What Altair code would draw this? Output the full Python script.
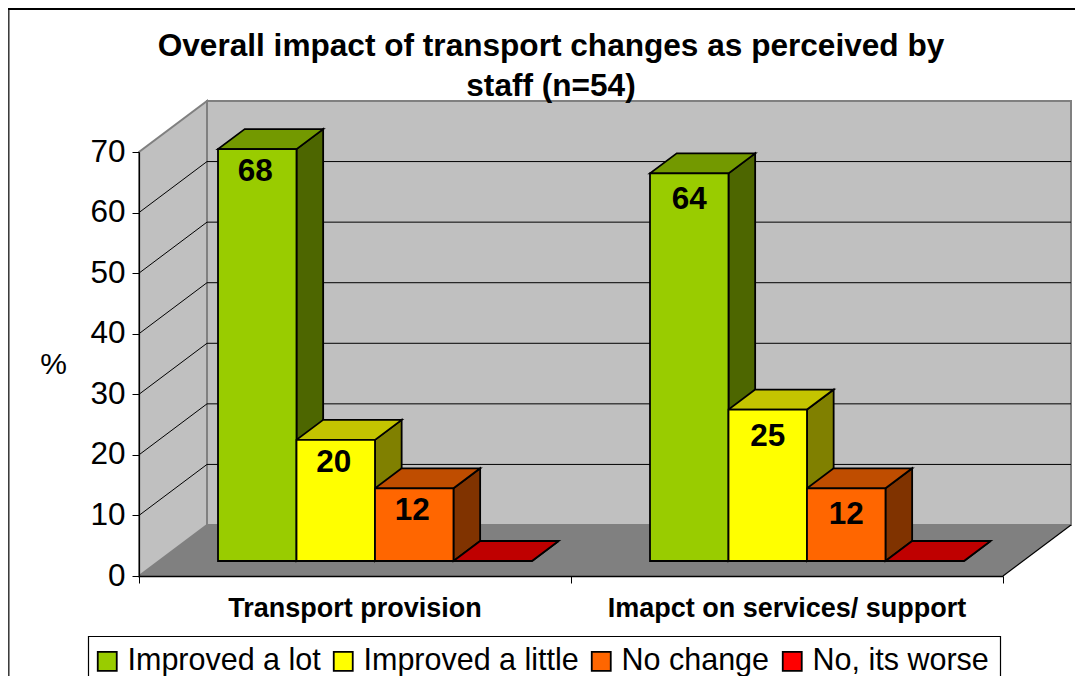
import altair as alt

TITLE = ["Overall impact of transport changes as perceived by", "staff (n=54)"]
GROUPS = ["Transport provision", "Imapct on services/ support"]
SERIES = ["Improved a lot", "Improved a little", "No change", "No, its worse"]
VALUES = [[68, 20, 12, 0], [64, 25, 12, 0]]
FRONT = ["#99cc00", "#ffff00", "#ff6600", "#ff0000"]
TOP = ["#739900", "#c4c400", "#bf4d00", "#bf0000"]
SIDE = ["#4d6600", "#808000", "#803300", "#800000"]
TICKS = [0, 10, 20, 30, 40, 50, 60, 70]
GRID = [10, 20, 30, 40, 50, 60]
LABEL_DX = [-2, 0]
LABEL_DY = [23, 27]

# 3-D projection expressed in data units (slots on x, percent on y)
DEPTH_X, DEPTH_Y = 0.1574, 8.42
D1, D2 = 0.294, 0.686
MARGIN, BAR_W = 0.1366, 0.1817
FONT = "Liberation Sans"

sides, tops, fronts, labels = [], [], [], []
for g, vals in enumerate(VALUES):
    for i, v in enumerate(vals):
        xl = g + MARGIN + i * BAR_W
        xr = xl + BAR_W
        bid = f"{g}-{i}"
        for d in (D1, D2):
            sides.append(dict(id=bid, col=SIDE[i], x=xr + d * DEPTH_X,
                              y=d * DEPTH_Y, y2=v + d * DEPTH_Y))
            tops.append(dict(id=bid, col=TOP[i], y=v + d * DEPTH_Y,
                             x=xl + d * DEPTH_X, x2=xr + d * DEPTH_X))
        fronts.append(dict(series=SERIES[i], x=xl + D1 * DEPTH_X, x2=xr + D1 * DEPTH_X,
                           y=D1 * DEPTH_Y, y2=v + D1 * DEPTH_Y))
        if v > 0:
            labels.append(dict(g=g, t=str(v), x=(xl + xr) / 2 + D1 * DEPTH_X,
                               y=v + D1 * DEPTH_Y))

xs = alt.Scale(domain=[0, 2], nice=False, zero=False)
ys = alt.Scale(domain=[0, 70], nice=False, zero=False)


def X(f="x", **k):
    k.setdefault("axis", None)
    return alt.X(f"{f}:Q", scale=xs, stack=None, **k)


def Y(f="y", **k):
    k.setdefault("axis", None)
    return alt.Y(f"{f}:Q", scale=ys, stack=None, **k)


def df(rows):
    return alt.Data(values=rows)


left_wall = alt.Chart(df([
    dict(x=0, y=0, y2=70), dict(x=DEPTH_X, y=DEPTH_Y, y2=70 + DEPTH_Y)
])).mark_area(color="#c0c0c0", stroke="#808080", strokeWidth=2).encode(
    x=X(), y=Y(), y2="y2:Q")

back_wall = alt.Chart(df([
    dict(x=DEPTH_X, x2=2 + DEPTH_X, y=DEPTH_Y, y2=70 + DEPTH_Y)
])).mark_rect(color="#c0c0c0", stroke="#808080", strokeWidth=2).encode(
    x=X(), x2="x2:Q", y=Y(), y2="y2:Q")

floor = alt.Chart(df([
    dict(y=0, x=0, x2=2), dict(y=DEPTH_Y, x=DEPTH_X, x2=2 + DEPTH_X)
])).mark_area(color="#808080", orient="horizontal").encode(
    y=Y(), x=X(), x2="x2:Q")

floor_edge = alt.Chart(df([
    dict(x=2, y=0), dict(x=2 + DEPTH_X, y=DEPTH_Y)
])).mark_line(color="black", strokeWidth=1.2).encode(x=X(), y=Y())

grid_back = alt.Chart(df([
    dict(x=DEPTH_X, x2=2 + DEPTH_X, y=v + DEPTH_Y) for v in GRID
])).mark_rule(color="black", strokeWidth=1).encode(x=X(), x2="x2:Q", y=Y())

grid_side_rows = []
for v in GRID:
    grid_side_rows += [dict(k=v, x=0, y=v), dict(k=v, x=DEPTH_X, y=v + DEPTH_Y)]
grid_side = alt.Chart(df(grid_side_rows)).mark_line(color="black", strokeWidth=1).encode(
    x=X(), y=Y(), detail="k:N")

side_layer = alt.Chart(df(sides)).mark_area(stroke="black", strokeWidth=1.8).encode(
    x=X(), y=Y(), y2="y2:Q", detail="id:N", color=alt.Color("col:N", scale=None))

top_layer = alt.Chart(df(tops)).mark_area(stroke="black", strokeWidth=1.8, orient="horizontal").encode(
    y=Y(), x=X(), x2="x2:Q", detail="id:N", color=alt.Color("col:N", scale=None))

front_layer = alt.Chart(df(fronts)).mark_rect(stroke="black", strokeWidth=1.8).encode(
    x=X(axis=alt.Axis(values=[0, 1, 2], labels=False, title=None, grid=False, domainColor="black",
                      domainWidth=1.5, tickColor="black", tickSize=7, tickWidth=1, zindex=1)),
    x2="x2:Q",
    y=Y(axis=alt.Axis(values=TICKS, title="%", titleAngle=0, titleFont=FONT, titleFontSize=30,
                      titleFontWeight="normal", titleColor="black", titleX=-86, titleY=212,
                      titleAlign="center", titleBaseline="middle",
                      grid=False, domainColor="black", domainWidth=1.2, tickColor="black",
                      tickSize=7, tickWidth=1, labelFont=FONT, labelFontSize=31.5,
                      labelColor="black", labelPadding=7, zindex=1)),
    y2="y2:Q",
    color=alt.Color("series:N", scale=alt.Scale(domain=SERIES, range=FRONT), sort=SERIES,
                    legend=alt.Legend(orient="none", legendX=-47, legendY=494, direction="horizontal",
                                      columns=4, title=None, padding=0, symbolType="square",
                                      symbolSize=361, symbolStrokeColor="black", symbolStrokeWidth=1.8,
                                      labelFont=FONT, labelFontSize=30.5, labelColor="black",
                                      labelOffset=5, columnPadding=7, labelLimit=400)))

label_layers = [
    alt.Chart(df([r for r in labels if r["g"] == g])).mark_text(
        font=FONT, fontSize=31.5, fontWeight="bold", color="black", baseline="middle",
        align="center", dx=LABEL_DX[g], dy=LABEL_DY[g]).encode(x=X(), y=Y(), text="t:N")
    for g in range(len(VALUES))
]

cat_layer = alt.Chart(df([
    dict(x=0.5 + g, t=name) for g, name in enumerate(GROUPS)
])).mark_text(font=FONT, fontSize=27, fontWeight="bold", color="black", baseline="middle",
              align="center").encode(x=X(), y=alt.value(457), text="t:N")

frame_left = alt.Chart(df([dict(a=1)])).mark_rule(color="#333333", strokeWidth=1.5).encode(
    x=alt.value(-130.2), y=alt.value(-144), y2=alt.value(524))
frame_top = alt.Chart(df([dict(a=1)])).mark_rule(color="black", strokeWidth=2).encode(
    x=alt.value(-131), x2=alt.value(936), y=alt.value(-143))
legend_box = alt.Chart(df([dict(a=1)])).mark_rect(fill="white", stroke="black", strokeWidth=1.2).encode(
    x=alt.value(-50.5), x2=alt.value(861.5), y=alt.value(484.5), y2=alt.value(560))

chart = alt.layer(
    left_wall, back_wall, floor, floor_edge, grid_back, grid_side,
    side_layer, top_layer, front_layer, *label_layers, cat_layer, legend_box, frame_left, frame_top
).resolve_scale(color="independent").resolve_axis(x="independent", y="independent").properties(
    width=864, height=424,
    padding={"left": 131, "top": 144, "right": 72, "bottom": 100},
    autosize=alt.AutoSizeParams(type="none"),
    background="white",
    title=alt.TitleParams(text=TITLE, font=FONT, fontSize=31.6, fontWeight="bold", color="black",
                          anchor="middle", dx=-20, offset=-95, lineHeight=40),
).configure_view(stroke=None)

chart.save("out.html", embed_options={"renderer": "svg", "actions": False})
